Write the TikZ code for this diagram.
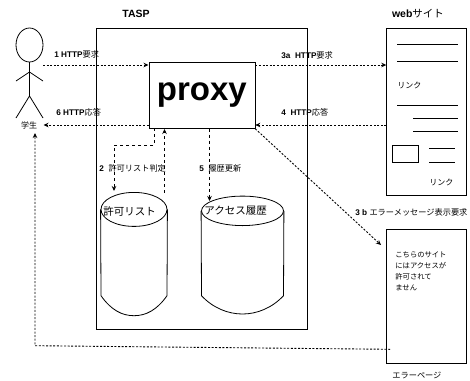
\documentclass[tikz,border=0pt]{standalone}
\usepackage{fontspec}
\setmainfont{Liberation Sans}
\newfontfamily\jpfont{Noto Sans CJK JP}
\newcommand{\jp}[1]{{\jpfont\mdseries #1}}
\usetikzlibrary{positioning, arrows.meta, calc, shapes.geometric}
\tikzset{
  tasp/.style={x=1pt, y=-1pt, line width=0.8pt, font=\fontsize{8}{9}\selectfont, inner sep=0pt, node distance=6pt and 6pt},
  frame/.style={draw, minimum width=#1, anchor=north west},
  dbtop/.style={draw, ellipse, anchor=north},
  msg/.style={font=\fontsize{8.2}{9}\selectfont\bfseries, anchor=west},
  head/.style={font=\fontsize{10.5}{11}\selectfont\bfseries},
  dbname/.style={font=\fontsize{10.5}{11}\selectfont, anchor=west},
  txt/.style={font=\fontsize{7.3}{9}\selectfont, anchor=west},
  linktxt/.style={font=\fontsize{8}{9}\selectfont, anchor=west},
  arr/.style={dash pattern=on 2pt off 1.6pt, line width=0.9pt, -{Stealth[length=5pt, width=4.5pt]}},
  vert/.style={arr, dash pattern=on 3pt off 3pt},
}
\begin{document}
\begin{tikzpicture}[
  tasp,
]
\useasboundingbox (0,0) rectangle (470,380);

% boxes
\node[frame=211.5pt, minimum height=301pt] (server) at (95.5,28) {};
\node[frame=106pt, minimum height=66.5pt, fill=white, font=\fontsize{33}{34}\selectfont\bfseries] (proxy) at (148.5,61.5) {\raisebox{-3.5pt}{proxy}};
\node[frame=79.5pt, minimum height=167pt] (web) at (386.3,28) {};
\node[frame=79.5pt, minimum height=134pt] (errpage) at (386.3,229) {};
\node[head] (tasplabel) at (136,14) {TASP};
\node[head] (weblabel) at (418,14) {web\jp{サイト}};
\node[linktxt, font=\fontsize{8.2}{9}\selectfont] (errlabel) at (392,375) {\jp{エラーページ}};

% student
\node[draw, ellipse, minimum width=27pt, minimum height=34pt] (face) at (29.5,45) {};
\coordinate (hip) at (29.5,96);
\coordinate (chest) at (29.5,72);
\draw (face.south) -- (hip);
\draw (16,81) -- (chest) -- (43,81);
\draw (16,118) -- (hip) -- (43,118);
\node[linktxt, anchor=center] (student) at (29,125) {\jp{学生}};
\coordinate (stuout) at (43,65);
\coordinate (stuin) at (43.5,125);
\coordinate (stubelow) at (35,133);

% databases
\node[dbtop, minimum width=66pt, minimum height=34pt] (allow) at (134,192) {};
\draw (allow.west) -- (101,295.7) .. controls (111,310) and (122,315.7) .. (134,315.7)
  .. controls (146,315.7) and (157,310) .. (167,295.7) -- (allow.east);
\node[dbtop, minimum width=82pt, minimum height=29.5pt] (history) at (242.5,195.7) {};
\draw (history.west) -- (201.5,295.7) .. controls (213,308) and (228,314) .. (242.5,314)
  .. controls (257,314) and (272,308) .. (283.5,295.7) -- (history.east);
\node[dbname] (allowname) at (103,211) {\jp{許可リスト}};
\node[dbname] (historyname) at (204,211) {\jp{アクセス履歴}};

% web page
\draw (397,44.7) -- (458,44.7);
\draw (397,61.5) -- (458,61.5);
\node[linktxt] (link1) at (397,85) {\jp{リンク}};
\draw (397,105) -- (458,105);
\draw (413,118) -- (458,118);
\draw (413,131.7) -- (458,131.7);
\node[draw, minimum width=26.5pt, minimum height=17pt] (thumb) at (405.3,153.5) {};
\draw (429,148.5) -- (455,148.5);
\draw (429,162) -- (455,162);
\node[linktxt] (link2) at (429,182) {\jp{リンク}};

% error page text
\node[txt] (err1) at (395,255) {\jp{こちらのサイト}};
\node[txt] (err2) at (395,266) {\jp{にはアクセスが}};
\node[txt] (err3) at (395,277) {\jp{許可されて}};
\node[txt] (err4) at (395,288) {\jp{ません}};

% connectors
\draw[arr] (stuout) -- (proxy.west |- stuout);
\draw[arr] (proxy.west |- stuin) -- (stuin);
\draw[arr] (proxy.east |- stuout) -- (web.west |- stuout);
\draw[arr] (web.west |- stuin) -- (proxy.east |- stuin);
\draw[vert] (154,128) -- (154,145) -- (114,145) -- (114,191);
\draw[vert] (164.5,192.5) -- (164.5,129);
\draw[vert] (209.5,128.5) -- (209.5,201);
\draw[arr] (proxy.south east) -- (381,245);
\draw[arr] (390,349.3) -- (35,345.7) -- (stubelow);

% labels
\node[msg] at (54,54) {1 HTTP\jp{要求}};
\node[msg] at (56,112) {6 HTTP\jp{応答}};
\node[msg] at (281,55) {3a~ HTTP\jp{要求}};
\node[msg] at (281,112) {4~ HTTP\jp{応答}};
\node[msg] at (99,168) {2~ \jp{許可リスト判定}};
\node[msg] at (199,168) {5~ \jp{履歴更新}};
\node[msg] at (355,212) {3 b \jp{エラーメッセージ表示要求}};
\end{tikzpicture}
\end{document}
